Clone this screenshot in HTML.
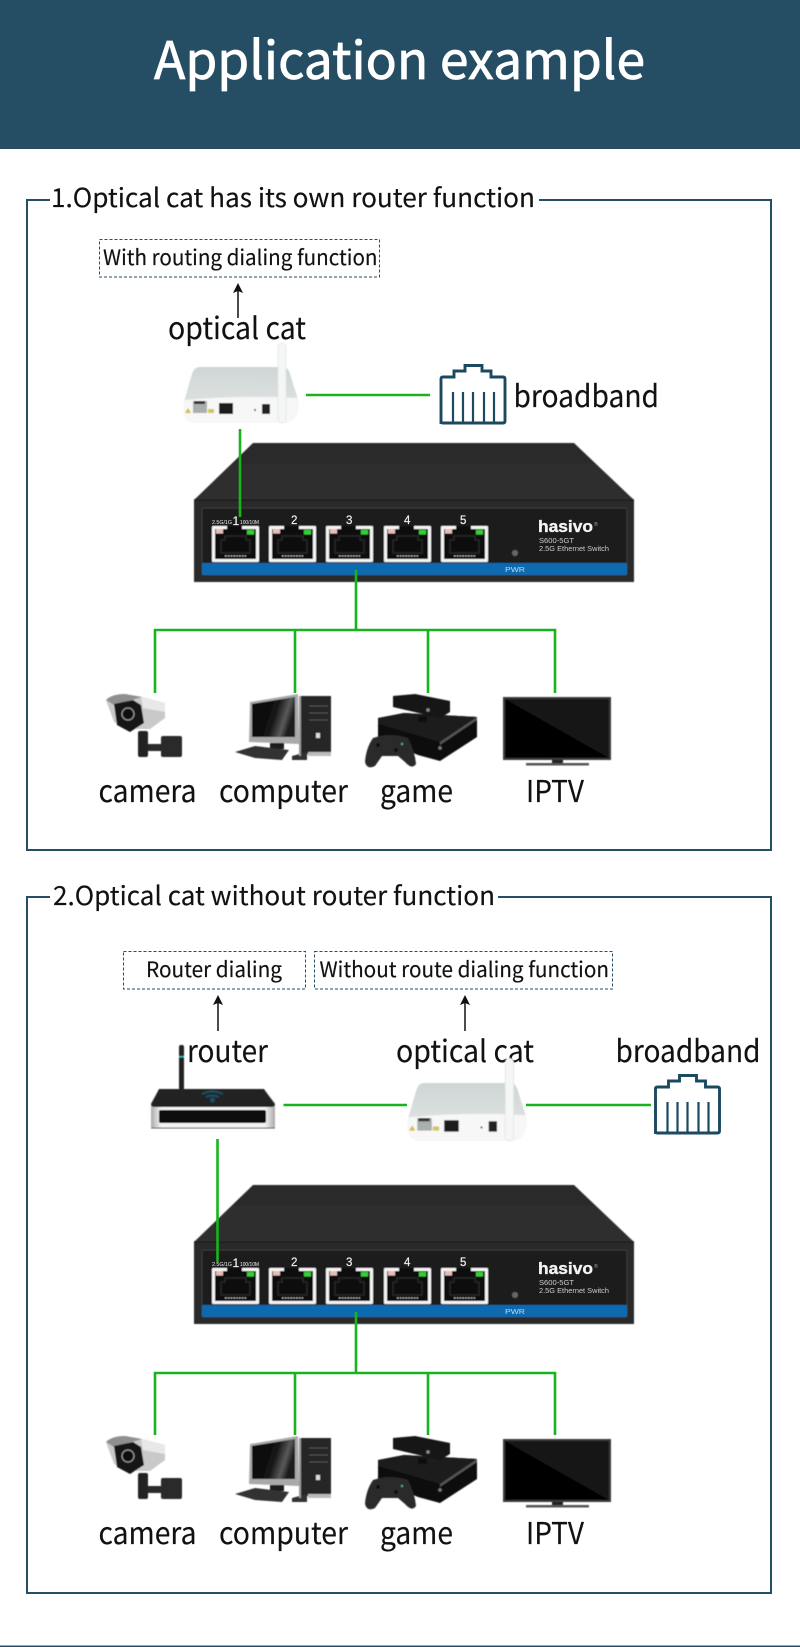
<!DOCTYPE html>
<html><head><meta charset="utf-8"><title>Application example</title>
<style>
html,body{margin:0;padding:0;background:#fff;width:800px;height:1647px;overflow:hidden}
svg{display:block}
text{font-family:"Noto Sans CJK SC","Liberation Sans",sans-serif;fill:#111;stroke:#111;stroke-width:.15}
.s{font-family:"Liberation Sans",Arial,sans-serif;fill:#eee;stroke:none}
.h{font-family:"Liberation Sans",Arial,sans-serif;fill:#f4f4f4;stroke:#f4f4f4;stroke-width:.35}
.n{font-family:"Liberation Sans",Arial,sans-serif;fill:#f0f0f0;stroke:#f0f0f0;stroke-width:.2}
.g{stroke:#18b41e;stroke-width:2.6;fill:none}
.b{fill:none;stroke:#254d63;stroke-width:2}
.d{fill:none;stroke:#254d63;stroke-width:1;stroke-dasharray:3 2}
.a{stroke:#111;stroke-width:1.5;fill:none}
</style></head><body>
<svg xmlns="http://www.w3.org/2000/svg" width="800" height="1647" viewBox="0 0 800 1647">
<defs>
<filter id="bl" x="-5%" y="-5%" width="110%" height="110%"><feGaussianBlur stdDeviation="0.45"/></filter>
<linearGradient id="top" x1="0" y1="0" x2="0" y2="1"><stop offset="0" stop-color="#2b2b2b"/><stop offset="1" stop-color="#373737"/></linearGradient>
<linearGradient id="cat" x1="0" y1="0" x2="0" y2="1"><stop offset="0" stop-color="#cfd6d5"/><stop offset="1" stop-color="#e4e8e7"/></linearGradient>
<linearGradient id="scr" x1="0" y1="0" x2="1" y2="0.3"><stop offset="0" stop-color="#040404"/><stop offset=".6" stop-color="#141414"/><stop offset=".85" stop-color="#5a5a5a"/><stop offset="1" stop-color="#1c1c1c"/></linearGradient>
<linearGradient id="wb" x1="0" y1="0" x2="1" y2="0"><stop offset="0" stop-color="#aaa"/><stop offset=".08" stop-color="#f4f4f4"/><stop offset=".92" stop-color="#f4f4f4"/><stop offset="1" stop-color="#aaa"/></linearGradient>
<g id="port">
<rect x="0" y="0" width="47" height="36" rx="1" fill="#f4f4f4"/>
<path d="M3 3H15V0H30V3H44V33H3Z" fill="#111"/>
<rect x="4" y="3" width="7" height="4.500" fill="#e5bdb4"/>
<rect x="35" y="4" width="7" height="4.500" fill="#35d035"/>
<path d="M9 14h4v-4h21v4h4v13h-29z" fill="none" stroke="#262626" stroke-width="1.5"/>
<path d="M13 30h21" stroke="#ccc" stroke-width="1" stroke-dasharray="1.6 1.2"/>
</g>
<g id="sw" filter="url(#bl)">
<path d="M253 443H574L634 500V582H194V500Z" fill="url(#top)"/>
<rect x="194" y="500" width="440" height="82" fill="#2b2b2b"/>
<path d="M194 500H634" stroke="#1c1c1c" stroke-width="1.5"/>
<rect x="202" y="508" width="425" height="67" rx="2" fill="#1f1f1f" stroke="#3c3c3c"/>
<rect x="202" y="563" width="425" height="12" rx="1" fill="#0b6bb0"/>
<use href="#port" x="212" y="526"/><use href="#port" x="269" y="526"/><use href="#port" x="326" y="526"/><use href="#port" x="384" y="526"/><use href="#port" x="441" y="526"/>
<circle cx="515" cy="553" r="3" fill="#666"/>
</g>
<g id="catdev" filter="url(#bl)">
<path d="M200 367H283Q288 367 290 374L297 396Q300 410 296 416Q292 423 284 423H196Q186 423 184 414Q183 408 185 398L192 374Q194 367 200 367Z" fill="url(#cat)"/>
<path d="M185 400Q240 395 297 398Q300 410 296 416Q292 423 284 423H196Q186 423 184 414Q183 408 185 400Z" fill="#f6f7f6"/>
<rect x="193" y="401" width="14" height="12" fill="#a9aeae"/><rect x="194" y="401" width="11" height="3" fill="#333"/>
<path d="M185 413l3-5 3 5z" fill="#e0b92c"/><rect x="208" y="409" width="6" height="4" fill="#d5c35a"/>
<rect x="219" y="403" width="14" height="11" fill="#1c1c1c"/>
<circle cx="255" cy="410" r="1" fill="#333"/>
<rect x="262" y="404" width="8" height="10" fill="#222"/>
<rect x="278" y="343" width="8" height="80" rx="4" fill="#f5f6f6" stroke="#e3e6e5" stroke-width=".8"/>
</g>
<g id="rj">
<path d="M441 424V379Q441 377 443 377H454V371H465V365.500H482V371H491V377H503Q505 377 505 379V421Q505 423 503 423H443Q441 423 441 421Z" fill="none" stroke="#1b4a60" stroke-width="2.900"/>
<path d="M453 392V423M463 392V423M473 392V423M484 392V423M494 392V423" stroke="#1b4a60" stroke-width="2.200"/>
</g>
<g id="devs" filter="url(#bl)">
<!-- camera -->
<path d="M106 700Q112 694 125 694L142 697L165 703V718L150 729H125L114 722Z" fill="#c9c9c9"/>
<path d="M106 700Q112 694 125 694L142 697L114 705Z" fill="#8f8f8f"/>
<path d="M114 704L133 700L141 705L144 723L130 732L117 725Z" fill="#161616"/>
<path d="M141 697L165 703V712L143 708Z" fill="#e8e8e8"/>
<circle cx="128" cy="714" r="6" fill="#111" stroke="#999" stroke-width="1.2"/>
<rect x="138" y="731" width="10" height="26" rx="2" fill="#222"/>
<rect x="148" y="744" width="14" height="7" fill="#2a2a2a"/>
<rect x="161" y="736" width="21" height="21" rx="2" fill="#2b2b2b"/>
<!-- computer -->
<path d="M250 702L298 694L299 744L249 742Z" fill="#a7a9aa"/>
<path d="M252 704L295 697V737H252Z" fill="url(#scr)"/>
<rect x="270" y="743" width="14" height="6" fill="#1c1c1c"/>
<path d="M235 752L255 746L289 750L282 760L255 758Z" fill="#333"/>
<path d="M300 696H331V756H308V754L300 757Z" fill="#262626"/>
<rect x="308" y="752" width="23" height="4" fill="#bbb"/>
<path d="M309 706H328M309 713H328M309 720H328" stroke="#555" stroke-width="1"/>
<rect x="316" y="733" width="4" height="5" fill="#ddd"/>
<path d="M292 756L307 752V760L292 760Z" fill="#333"/>
<rect x="299" y="696" width="2" height="60" fill="#999"/>
<!-- game -->
<path d="M378 718L404 713L477 717L477 737L440 761L418 755L378 738Z" fill="#0a0a0a"/>
<path d="M378 718L404 713L477 717L440 742L378 724Z" fill="#1a1a1a"/>
<path d="M440 742L477 717V720L440 745Z" fill="#555"/>
<path d="M393 696L415 694L450 701V712L440 718L393 707Z" fill="#181818"/>
<rect x="418" y="716" width="9" height="6" fill="#111"/>
<circle cx="428" cy="710" r="1.8" fill="#888"/>
<circle cx="440" cy="748" r="1.800" fill="#777"/>
<path d="M373 738Q390 732 408 738Q415 752 416 764Q412 770 405 762L398 756H382L375 766Q367 770 365 762Q366 748 373 738Z" fill="#2a2a2a"/>
<circle cx="378" cy="745" r="2" fill="#111"/><circle cx="396" cy="750" r="2" fill="#111"/><circle cx="402" cy="744" r="1.200" fill="#5a8"/>
<!-- tv -->
<rect x="503" y="697" width="108" height="63" fill="#3a3a3a"/>
<rect x="505" y="699" width="104" height="59" fill="#030303"/>
<path d="M505 699H609V758Z" fill="#161616"/>
<rect x="552" y="760" width="11" height="4" fill="#222"/>
<rect x="526" y="763" width="63" height="2.500" fill="#555"/>
</g>
<g id="router" filter="url(#bl)">
<rect x="179" y="1045" width="5" height="45" rx="2" fill="#222"/>
<rect x="179" y="1056" width="5" height="1.500" fill="#39b3b5"/>
<path d="M151 1103L159 1089H264L275 1103V1126Q275 1128 273 1128H153Q151 1128 151 1126Z" fill="url(#wb)"/>
<path d="M151 1104L159 1089H264L275 1104Q275 1107 271 1107H155Q151 1107 151 1104Z" fill="#232323"/>
<rect x="159" y="1110" width="107" height="13" rx="2" fill="#0b0b0b"/>
<path d="M151 1128H275" stroke="#555" stroke-width="1"/>
<path d="M202 1094Q212 1089 223 1094M206 1097Q212 1094 219 1097" stroke="#1b4f63" stroke-width="2" fill="none"/>
<circle cx="212.500" cy="1100" r="2.500" fill="#1b4f63"/>
</g>
</defs>

<rect x="0" y="0" width="800" height="149" fill="#254d63"/>
<text x="154" y="79" font-size="52" textLength="491" lengthAdjust="spacingAndGlyphs" style="fill:#fff;stroke:#fff;stroke-width:.8">Application example</text>

<!-- section 1 -->
<path class="b" d="M50 200H27V850H771V200H539"/>
<text x="51" y="207" font-size="26" textLength="484" lengthAdjust="spacingAndGlyphs">1.Optical cat has its own router function</text>
<rect class="d" x="99.500" y="239.500" width="280" height="37.500"/>
<text x="103" y="265" font-size="21" textLength="274.500" lengthAdjust="spacingAndGlyphs">With routing dialing function</text>
<path class="a" d="M238 318V288"/><path d="M238 283l-5 10 5-2 5 2z" fill="#111"/>
<text x="168" y="339" font-size="30" textLength="138" lengthAdjust="spacingAndGlyphs">optical cat</text>
<use href="#catdev"/>
<path class="g" d="M306 395H430"/>
<use href="#rj"/>
<text x="513.500" y="407" font-size="30" textLength="145.500" lengthAdjust="spacingAndGlyphs">broadband</text>
<use href="#sw"/>
<path class="g" d="M240 429V517"/>
<text class="s" x="212" y="524" font-size="5" textLength="20" lengthAdjust="spacingAndGlyphs">2.5G/1G</text>
<text class="n" x="232.500" y="525" font-size="12">1</text>
<text class="s" x="240" y="524" font-size="5" textLength="19" lengthAdjust="spacingAndGlyphs">100/10M</text>
<text class="n" x="291" y="524" font-size="11.500">2</text><text class="n" x="346" y="524" font-size="11.500">3</text><text class="n" x="404" y="524" font-size="11.500">4</text><text class="n" x="460" y="524" font-size="11.500">5</text>
<text class="h" x="538" y="532" font-size="17" font-weight="700" textLength="55" lengthAdjust="spacingAndGlyphs">hasivo</text>
<text class="s" x="594" y="526" font-size="5" style="fill:#aaa">®</text>
<text class="s" x="539" y="543" font-size="7" textLength="35" lengthAdjust="spacingAndGlyphs" style="fill:#ccc">S600-5GT</text>
<text class="s" x="539" y="551" font-size="7" textLength="70" lengthAdjust="spacingAndGlyphs" style="fill:#ccc">2.5G Ethernet Switch</text>
<text class="s" x="505" y="572" font-size="7.500" textLength="20" lengthAdjust="spacingAndGlyphs" style="fill:#bde">PWR</text>
<path class="g" d="M356 570V630M155 693V630H555V693M295 630V693M428 630V693"/>
<use href="#devs"/>
<text x="98.500" y="802" font-size="30" textLength="98" lengthAdjust="spacingAndGlyphs">camera</text>
<text x="219" y="802" font-size="30" textLength="129" lengthAdjust="spacingAndGlyphs">computer</text>
<text x="380" y="802" font-size="30" textLength="73" lengthAdjust="spacingAndGlyphs">game</text>
<text x="526" y="802" font-size="30" textLength="58" lengthAdjust="spacingAndGlyphs">IPTV</text>

<!-- section 2 -->
<path class="b" d="M50 897H27V1593H771V897H498"/>
<text x="53" y="905" font-size="26" textLength="442" lengthAdjust="spacingAndGlyphs">2.Optical cat without router function</text>
<rect class="d" x="123.500" y="951.500" width="182" height="37.500"/>
<rect class="d" x="314.500" y="951.500" width="298" height="37.500"/>
<text x="146" y="977" font-size="21" textLength="136" lengthAdjust="spacingAndGlyphs">Router dialing</text>
<text x="319.500" y="977" font-size="21" textLength="289.500" lengthAdjust="spacingAndGlyphs">Without route dialing function</text>
<path class="a" d="M218 1031V1000M465 1031V1000"/><path d="M218 995l-5 10 5-2 5 2zM465 995l-5 10 5-2 5 2z" fill="#111"/>
<text x="187" y="1062" font-size="30" textLength="81" lengthAdjust="spacingAndGlyphs">router</text>
<text x="396" y="1062" font-size="30" textLength="138" lengthAdjust="spacingAndGlyphs">optical cat</text>
<text x="615.500" y="1062" font-size="30" textLength="145" lengthAdjust="spacingAndGlyphs">broadband</text>
<use href="#router"/>
<path class="g" d="M283.500 1105H407M526 1105H651"/>
<use href="#catdev" transform="translate(408 1083) scale(1.035) translate(-184 -367)"/>
<use href="#rj" transform="translate(654.500 1075) translate(-440 -365)"/>
<use href="#sw" y="742"/>
<path class="g" d="M217.500 1139V1262"/>
<text class="s" x="212" y="1266" font-size="5" textLength="20" lengthAdjust="spacingAndGlyphs">2.5G/1G</text>
<text class="n" x="232.500" y="1267" font-size="12">1</text>
<text class="s" x="240" y="1266" font-size="5" textLength="19" lengthAdjust="spacingAndGlyphs">100/10M</text>
<text class="n" x="291" y="1266" font-size="11.500">2</text><text class="n" x="346" y="1266" font-size="11.500">3</text><text class="n" x="404" y="1266" font-size="11.500">4</text><text class="n" x="460" y="1266" font-size="11.500">5</text>
<text class="h" x="538" y="1274" font-size="17" font-weight="700" textLength="55" lengthAdjust="spacingAndGlyphs">hasivo</text>
<text class="s" x="594" y="1268" font-size="5" style="fill:#aaa">®</text>
<text class="s" x="539" y="1285" font-size="7" textLength="35" lengthAdjust="spacingAndGlyphs" style="fill:#ccc">S600-5GT</text>
<text class="s" x="539" y="1293" font-size="7" textLength="70" lengthAdjust="spacingAndGlyphs" style="fill:#ccc">2.5G Ethernet Switch</text>
<text class="s" x="505" y="1314" font-size="7.500" textLength="20" lengthAdjust="spacingAndGlyphs" style="fill:#bde">PWR</text>
<path class="g" d="M356 1312V1373M155 1435V1373H555V1435M295 1373V1435M428 1373V1435"/>
<use href="#devs" y="742"/>
<text x="98.500" y="1544" font-size="30" textLength="98" lengthAdjust="spacingAndGlyphs">camera</text>
<text x="219" y="1544" font-size="30" textLength="129" lengthAdjust="spacingAndGlyphs">computer</text>
<text x="380" y="1544" font-size="30" textLength="73" lengthAdjust="spacingAndGlyphs">game</text>
<text x="526" y="1544" font-size="30" textLength="58" lengthAdjust="spacingAndGlyphs">IPTV</text>

<rect x="0" y="1645.500" width="800" height="1.500" fill="#254d63"/>
</svg>
</body></html>
